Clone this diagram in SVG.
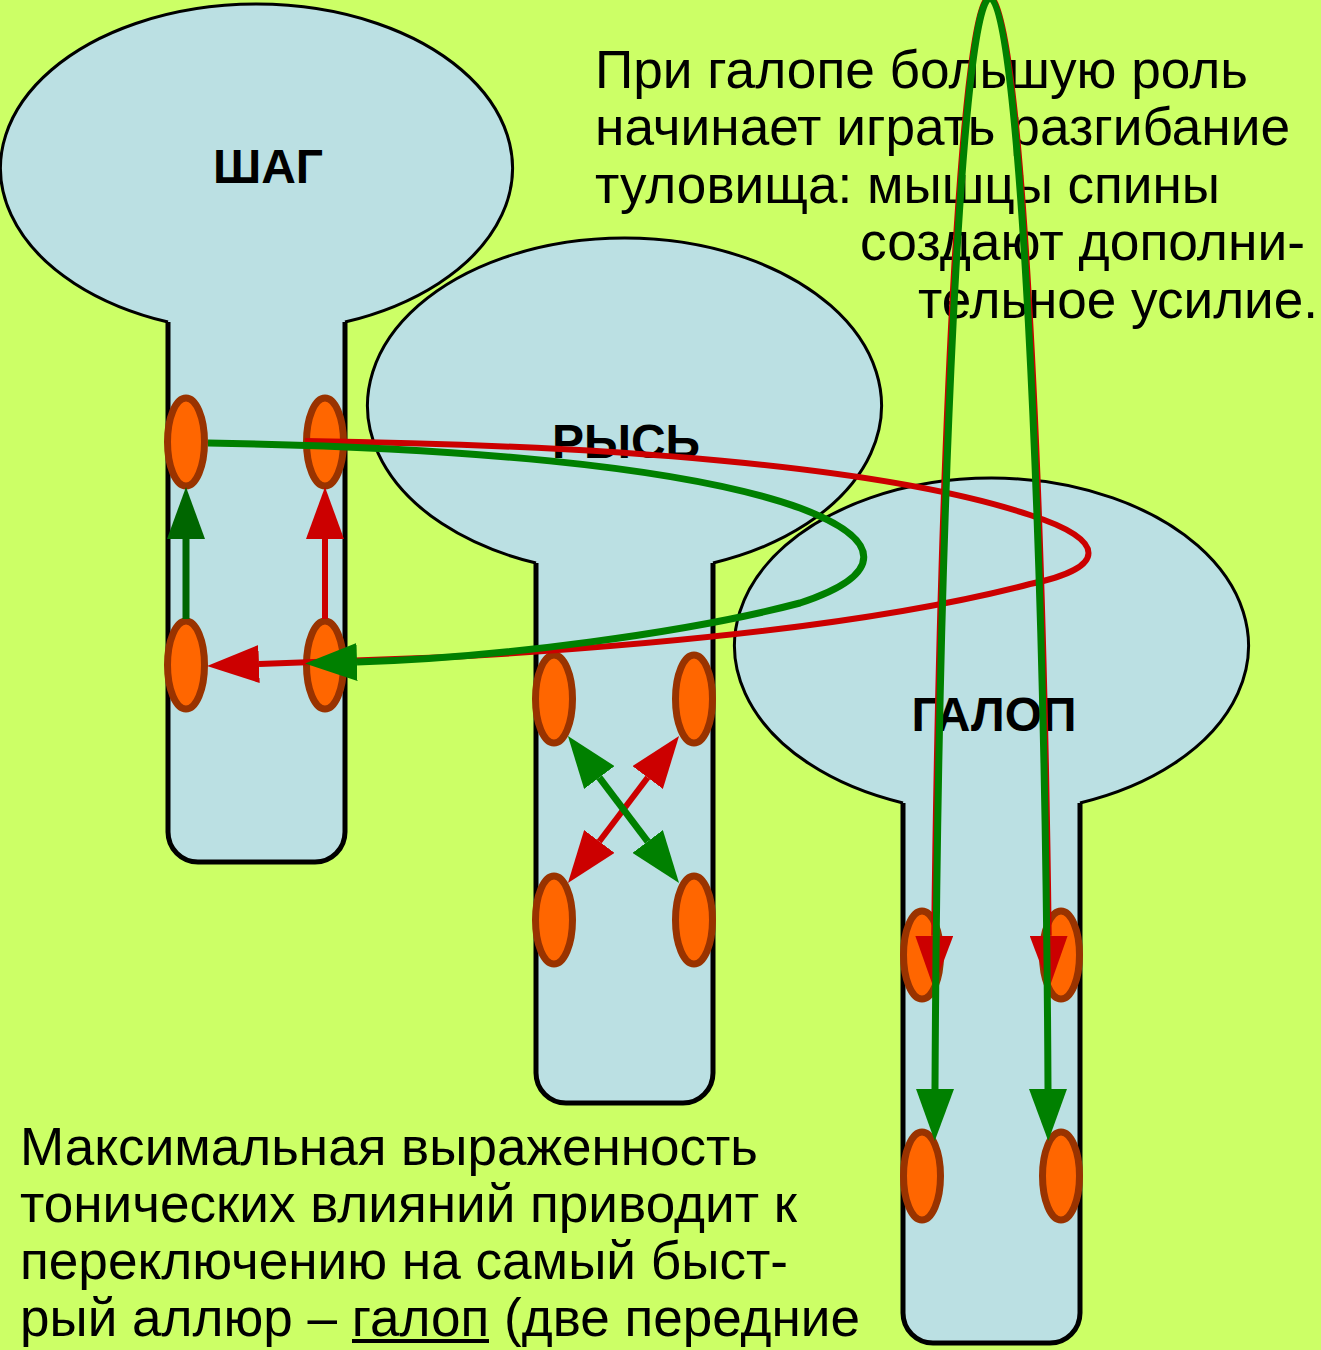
<svg xmlns="http://www.w3.org/2000/svg" width="1321" height="1350" viewBox="0 0 1321 1350">
<style>
.body{fill:#BBE0E3;stroke:none}
.head{fill:none;stroke:#000;stroke-width:3}
.neck{fill:none;stroke:#000;stroke-width:5}
.foot{fill:#FF6600;stroke:#993300;stroke-width:7}
.lbl{font-family:"Liberation Sans",Arial,sans-serif;font-weight:bold;font-size:48px;fill:#000;text-anchor:middle}
.txt{font-family:"Liberation Sans",Arial,sans-serif;font-size:53px;fill:#000}
.red{fill:none;stroke:#CC0000;stroke-width:6}
.grn{fill:none;stroke:#008000;stroke-width:7}
.dgrn{fill:none;stroke:#006600;stroke-width:7}
</style>
<defs>
<marker id="ah-red" markerUnits="userSpaceOnUse" markerWidth="52" markerHeight="38" viewBox="0 -19 52 38" refX="0" refY="0" orient="auto-start-reverse"><path d="M0,-19 L52,0 L0,19 z" fill="#CC0000"/></marker>
<marker id="ah-grn" markerUnits="userSpaceOnUse" markerWidth="52" markerHeight="38" viewBox="0 -19 52 38" refX="0" refY="0" orient="auto-start-reverse"><path d="M0,-19 L52,0 L0,19 z" fill="#008000"/></marker>
<marker id="ah-dgrn" markerUnits="userSpaceOnUse" markerWidth="52" markerHeight="38" viewBox="0 -19 52 38" refX="0" refY="0" orient="auto-start-reverse"><path d="M0,-19 L52,0 L0,19 z" fill="#006600"/></marker>
</defs>
<rect x="0" y="0" width="1321" height="1350" fill="#CCFF66"/>

<g id="shag">
<path class="body" d="M168,322 A256,164 0 1 1 345,322 L345,832 A30,30 0 0 1 315,862 L198,862 A30,30 0 0 1 168,832 Z"/>
<path class="head" d="M168,322 A256,164 0 1 1 345,322"/>
<path class="neck" d="M168,322 L168,832 A30,30 0 0 0 198,862 L315,862 A30,30 0 0 0 345,832 L345,322"/>
<text class="lbl" x="268" y="183">ШАГ</text>
<ellipse id="shag-fl" class="foot" cx="186" cy="442" rx="18.5" ry="44"/>
<ellipse id="shag-fr" class="foot" cx="325" cy="442" rx="18.5" ry="44"/>
<ellipse id="shag-hl" class="foot" cx="186" cy="665" rx="18.5" ry="44"/>
<ellipse id="shag-hr" class="foot" cx="325" cy="665" rx="18.5" ry="44"/>
</g>

<g id="rys">
<path class="body" d="M536,563 A257,167.6 0 1 1 713,563 L713,1073 A30,30 0 0 1 683,1103 L566,1103 A30,30 0 0 1 536,1073 Z"/>
<path class="head" d="M536,563 A257,167.6 0 1 1 713,563"/>
<path class="neck" d="M536,563 L536,1073 A30,30 0 0 0 566,1103 L683,1103 A30,30 0 0 0 713,1073 L713,563"/>
<text class="lbl" x="626" y="458">РЫСЬ</text>
<ellipse id="rys-fl" class="foot" cx="554" cy="699" rx="18.5" ry="44"/>
<ellipse id="rys-fr" class="foot" cx="694" cy="699" rx="18.5" ry="44"/>
<ellipse id="rys-hl" class="foot" cx="554" cy="920" rx="18.5" ry="44"/>
<ellipse id="rys-hr" class="foot" cx="694" cy="920" rx="18.5" ry="44"/>
</g>

<g id="galop">
<path class="body" d="M903,803 A257,167.6 0 1 1 1080,803 L1080,1313 A30,30 0 0 1 1050,1343 L933,1343 A30,30 0 0 1 903,1313 Z"/>
<path class="head" d="M903,803 A257,167.6 0 1 1 1080,803"/>
<path class="neck" d="M903,803 L903,1313 A30,30 0 0 0 933,1343 L1050,1343 A30,30 0 0 0 1080,1313 L1080,803"/>
<text class="lbl" x="994" y="731">ГАЛОП</text>
<ellipse id="galop-fl" class="foot" cx="922" cy="955" rx="18.5" ry="44"/>
<ellipse id="galop-fr" class="foot" cx="1061" cy="955" rx="18.5" ry="44"/>
<ellipse id="galop-hl" class="foot" cx="922" cy="1176" rx="18.5" ry="44"/>
<ellipse id="galop-hr" class="foot" cx="1061" cy="1176" rx="18.5" ry="44"/>
</g>

<g id="text-top" class="txt">
<text x="595" y="88" textLength="653" lengthAdjust="spacingAndGlyphs">При галопе большую роль</text>
<text x="595" y="145" textLength="695" lengthAdjust="spacingAndGlyphs">начинает играть разгибание</text>
<text x="595" y="203" textLength="625" lengthAdjust="spacingAndGlyphs">туловища: мышцы спины</text>
<text x="860" y="260" textLength="445" lengthAdjust="spacingAndGlyphs">создают дополни-</text>
<text x="918" y="318" textLength="400" lengthAdjust="spacingAndGlyphs">тельное усилие.</text>
</g>

<g id="text-bottom" class="txt">
<text x="20" y="1165" textLength="738" lengthAdjust="spacingAndGlyphs">Максимальная выраженность</text>
<text x="20" y="1222" textLength="777" lengthAdjust="spacingAndGlyphs">тонических влияний приводит к</text>
<text x="20" y="1279" textLength="768" lengthAdjust="spacingAndGlyphs">переключению на самый быст-</text>
<text x="20" y="1336" textLength="840" lengthAdjust="spacingAndGlyphs">рый аллюр – галоп (две передние</text>
<rect x="352" y="1339" width="137" height="4" fill="#000"/>
</g>

<g id="connectors">
<!-- ШАГ -->
<line class="dgrn" x1="186" y1="619" x2="186" y2="539" marker-end="url(#ah-dgrn)"/>
<line class="red" x1="325" y1="619" x2="325" y2="539" marker-end="url(#ah-red)"/>
<path class="red" d="M305,441 C600,445 880,465 1030,515 C1108,540 1108,568 1030,584 C900,618 700,643 450,657 L259,664" marker-end="url(#ah-red)"/>
<path class="grn" d="M208,443 C450,447 680,465 800,508 C885,540 885,575 800,603 C690,632 500,658 357,662" marker-end="url(#ah-grn)"/>
<!-- РЫСЬ -->
<line class="red" x1="647.7" y1="777.5" x2="599.3" y2="841.5" marker-start="url(#ah-red)" marker-end="url(#ah-red)"/>
<line class="grn" x1="599.3" y1="777.5" x2="647.7" y2="841.5" marker-start="url(#ah-grn)" marker-end="url(#ah-grn)"/>
<!-- ГАЛОП -->
<path class="red" d="M934.2,935.8 C940.25,415.5 962.5,-3.5 990,-3.5 C1017.5,-3.5 1042.25,415.5 1048.7,935.8" marker-start="url(#ah-red)" marker-end="url(#ah-red)"/>
<path class="grn" d="M935,1089 C938,500 962,-2 990,-2 C1018,-2 1045,500 1048,1089" marker-start="url(#ah-grn)" marker-end="url(#ah-grn)"/>
</g>
</svg>
